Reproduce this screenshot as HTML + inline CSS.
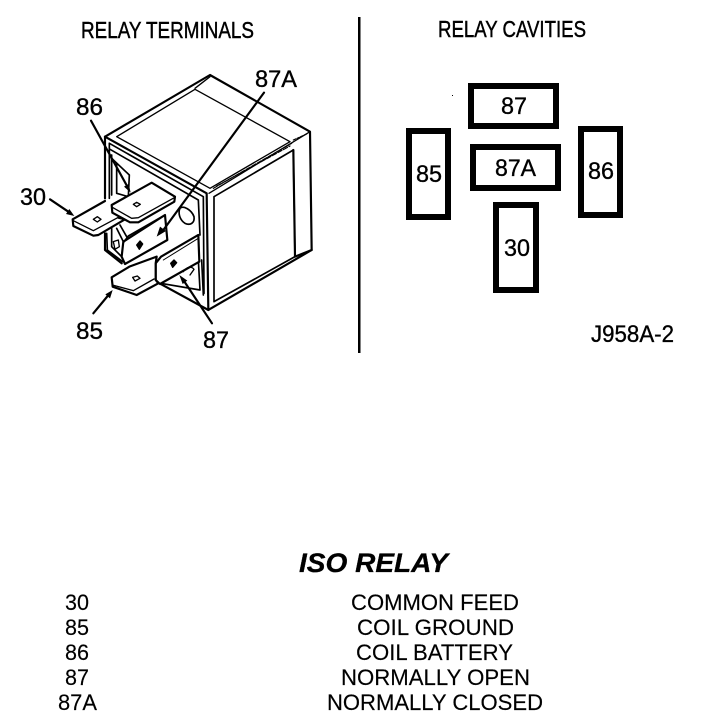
<!DOCTYPE html>
<html><head><meta charset="utf-8"><style>
html,body{margin:0;padding:0;background:#fff}
svg{display:block}
text{font-family:"Liberation Sans",sans-serif;fill:#000}
.t{font-size:22px;stroke:#000;stroke-width:.15px}
.h{font-size:23px;stroke:#000;stroke-width:.45px}
.n{font-size:24px;stroke:#000;stroke-width:.35px}
</style></head><body>
<svg width="704" height="720" viewBox="0 0 704 720" xmlns="http://www.w3.org/2000/svg">
<rect width="704" height="720" fill="#fff"/>
<text class="h" x="81" y="38" textLength="173" lengthAdjust="spacingAndGlyphs">RELAY TERMINALS</text>
<text class="h" x="438" y="37" textLength="148" lengthAdjust="spacingAndGlyphs">RELAY CAVITIES</text>
<rect x="358" y="17" width="2.5" height="336" fill="#000"/>

<g transform="translate(10,60) scale(0.33333)" fill="none" stroke="#000" stroke-width="6.5" stroke-linejoin="round" stroke-linecap="round">
  <!-- outer body -->
  <path d="M285 230L600 45L900 215L905 570L595 750L445 668M285 230L285 415M285 520L285 570L335 610"/>
  <path d="M285 230L590 400L595 750"/>
  <path d="M900 215L597 400" stroke-width="4"/>
  <!-- top inner -->
  <path d="M320 230L555 88L840 245L600 385Z" stroke-width="4"/>
  <path d="M600 50L555 85" stroke-width="4"/>
  <path d="M610 385L845 250M620 378L840 258" stroke-width="3.5" stroke-dasharray="14 5"/>
  <path d="M850 240L890 222" stroke-width="3.5" stroke-dasharray="8 4"/>
  <!-- right face -->
  <path d="M612 410L850 270L855 590L612 725Z" stroke-width="5"/>
  <path d="M850 270L855 590L905 570"/>
  <!-- front inner frame -->
  <path d="M298 250L580 410L582 700M300 268L565 420L570 525" stroke-width="5"/>
  <path d="M298 250L298 415M305 285L305 405M320 312L320 400L355 410L358 345L305 295" stroke-width="5"/>
  <path d="M565 600L570 690L452 670M575 600L580 705" stroke-width="5"/>
  <!-- oval slot -->
  <path d="M510 445C520 435 545 450 552 470C555 490 540 497 525 490C510 480 503 460 510 445Z" stroke-width="5"/>
  <!-- lower left housing -->
  <path d="M290 520L292 570L338 605M305 505L305 560L335 590" stroke-width="5"/>
  <path d="M310 545L325 540L328 560L315 568Z" stroke-width="4"/>
  <!-- terminal 87A -->
  <path d="M340 545L465 465L472 540L345 612L335 590Z" fill="#fff"/>
  <path d="M340 545L320 505M350 530L330 495M465 465L355 528L340 548" stroke-width="5"/>
  <path d="M380 555L390 543L398 552L388 568Z" stroke-width="4" fill="#000"/>
  <!-- terminal 30 -->
  <path d="M285 423L188 478L190 498L250 527L265 525L345 478L325 473" fill="#fff"/>
  <path d="M190 482L250 512L340 464" stroke-width="4"/>
  <path d="M250 478L262 470L273 478L262 486Z" stroke-width="4"/>
  <!-- terminal 86 -->
  <path d="M305 435L425 368L495 410L493 425L385 487L360 487L307 458Z" fill="#fff"/>
  <path d="M307 442L365 475L385 473L495 412" stroke-width="4"/>
  <path d="M370 433L380 427L391 433L380 440Z" stroke-width="4"/>
  <!-- terminal 87 -->
  <path d="M453 590L565 525L568 605L450 672L437 660L437 610Z" fill="#fff"/>
  <path d="M460 600L565 535" stroke-width="3"/>
  <path d="M482 610L492 600L500 608L488 622Z" stroke-width="4" fill="#000"/>
  <path d="M520 635C530 620 545 618 552 628L540 645" stroke-width="4"/>
  <!-- terminal 85 -->
  <path d="M305 652L358 620L440 590L437 610L437 660L445 670L380 705L308 680Z" fill="#fff"/>
  <path d="M307 675L370 692L432 657" stroke-width="4"/>
  <path d="M368 652L382 648L390 655L375 663Z" stroke-width="4"/>
  <!-- leaders -->
  <g stroke-width="6.5">
    <path d="M120 418L175 455"/>
    <path d="M243 182L355 385"/>
    <path d="M762 98L460 510"/>
    <path d="M250 760L298 702"/>
    <path d="M606 790L520 660"/>
  </g>
  <g fill="#000" stroke="none">
    <path d="M193 468L168 462L178 447Z"/>
    <path d="M362 398L342 380L356 372Z"/>
    <path d="M440 530L450 500L468 513Z"/>
    <path d="M308 690L300 715L286 703Z"/>
    <path d="M508 645L532 662L518 672Z"/>
  </g>
</g>

<text class="n" x="76" y="115" textLength="27" lengthAdjust="spacingAndGlyphs">86</text>
<text class="n" x="255" y="87" textLength="42" lengthAdjust="spacingAndGlyphs">87A</text>
<text class="n" x="20" y="205" textLength="26" lengthAdjust="spacingAndGlyphs">30</text>
<text class="n" x="76" y="339" textLength="27" lengthAdjust="spacingAndGlyphs">85</text>
<text class="n" x="203" y="348" textLength="26" lengthAdjust="spacingAndGlyphs">87</text>

<g fill="#fff" stroke="#000" stroke-width="6">
  <rect x="471" y="86" width="85" height="40"/>
  <rect x="409" y="131" width="39" height="86"/>
  <rect x="473" y="147" width="85" height="41"/>
  <rect x="581" y="129" width="39" height="86"/>
  <rect x="496" y="205" width="40" height="85"/>
</g>
<text class="n" x="501" y="114" textLength="26" lengthAdjust="spacingAndGlyphs">87</text>
<text class="n" x="416" y="182" textLength="26" lengthAdjust="spacingAndGlyphs">85</text>
<text class="n" x="495" y="176" textLength="41" lengthAdjust="spacingAndGlyphs">87A</text>
<text class="n" x="588" y="179" textLength="26" lengthAdjust="spacingAndGlyphs">86</text>
<text class="n" x="504" y="256" textLength="26" lengthAdjust="spacingAndGlyphs">30</text>
<rect x="452" y="95" width="1" height="1" fill="#000"/>

<text class="n" x="591" y="342" textLength="83" lengthAdjust="spacingAndGlyphs">J958A-2</text>

<text x="299" y="572" font-size="27" font-weight="bold" font-style="italic" stroke="#000" stroke-width=".3" textLength="149" lengthAdjust="spacingAndGlyphs">ISO RELAY</text>

<text class="t" x="65" y="610" textLength="24" lengthAdjust="spacingAndGlyphs">30</text>
<text class="t" x="65" y="635" textLength="24" lengthAdjust="spacingAndGlyphs">85</text>
<text class="t" x="65" y="660" textLength="24" lengthAdjust="spacingAndGlyphs">86</text>
<text class="t" x="65" y="685" textLength="24" lengthAdjust="spacingAndGlyphs">87</text>
<text class="t" x="58" y="710" textLength="39" lengthAdjust="spacingAndGlyphs">87A</text>

<text class="t" x="351" y="610" textLength="168" lengthAdjust="spacingAndGlyphs">COMMON FEED</text>
<text class="t" x="357" y="635" textLength="157" lengthAdjust="spacingAndGlyphs">COIL GROUND</text>
<text class="t" x="356" y="660" textLength="157" lengthAdjust="spacingAndGlyphs">COIL BATTERY</text>
<text class="t" x="341" y="685" textLength="189" lengthAdjust="spacingAndGlyphs">NORMALLY OPEN</text>
<text class="t" x="327" y="710" textLength="216" lengthAdjust="spacingAndGlyphs">NORMALLY CLOSED</text>
</svg>
</body></html>
